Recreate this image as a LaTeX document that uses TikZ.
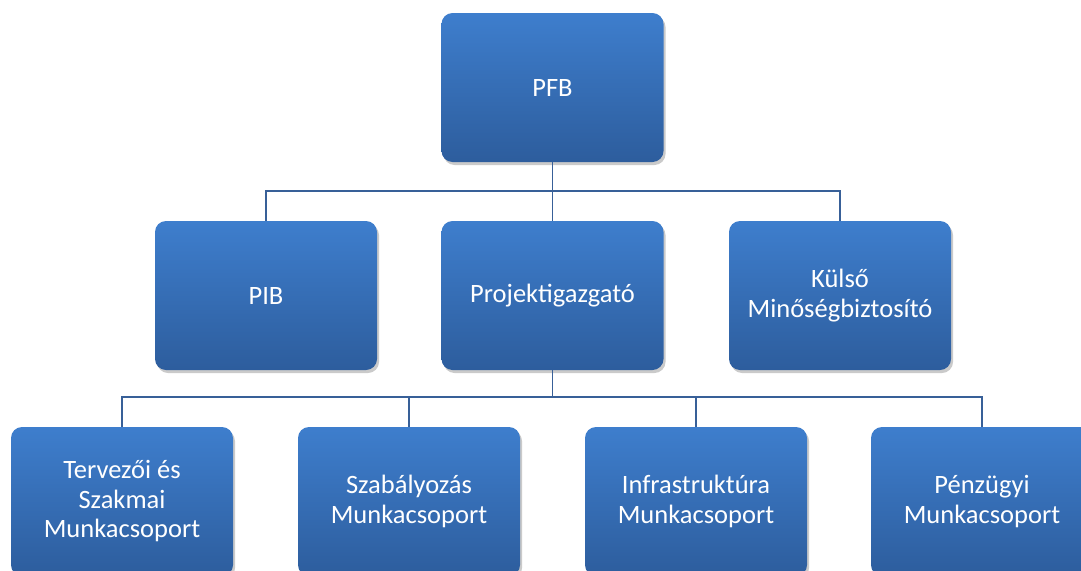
\documentclass[tikz,border=0pt]{standalone}
\usepackage{fontspec}
\setmainfont{Carlito}
\usetikzlibrary{shadows}
\definecolor{boxtop}{RGB}{62,126,205}
\definecolor{boxbot}{RGB}{45,93,157}
\definecolor{linec}{RGB}{56,96,152}
\tikzset{
  orgbox/.style={rectangle, rounded corners=11pt, minimum width=222pt, minimum height=149pt,
    top color=boxtop, bottom color=boxbot, draw=none, text=white, align=center,
    font=\fontsize{26.5}{29.5}\selectfont,
    drop shadow={shadow xshift=2pt, shadow yshift=-3pt, opacity=0.35, fill=black!60}},
  conn/.style={draw=linec, line width=1.8pt}
}
\begin{document}
\begin{tikzpicture}[x=1pt,y=-1pt]
\useasboundingbox (0,0) rectangle (1081,570);
\clip (0,0) rectangle (1081,570);
\node[orgbox] (pfb) at (552.5,87.5) {PFB};
\node[orgbox] (pib) at (266,295.5) {PIB};
\node[orgbox] (proj) at (552.5,295.5) {Projektigazgató};
\node[orgbox] (kul) at (840,295.5) {Külső\\Minőségbiztosító};
\node[orgbox] (t1) at (122,501.5) {Tervezői és\\Szakmai\\Munkacsoport};
\node[orgbox] (t2) at (409,501.5) {Szabályozás\\Munkacsoport};
\node[orgbox] (t3) at (696,501.5) {Infrastruktúra\\Munkacsoport};
\node[orgbox] (t4) at (982,501.5) {Pénzügyi\\Munkacsoport};
\coordinate (b1) at (552.5,191);
\coordinate (b2) at (552.5,397);
\draw[conn] (pfb.south) -- (b1);
\draw[conn] (b1) -- (proj.north);
\draw[conn] (pib.north) |- (b1) -| (kul.north);
\draw[conn] (proj.south) -- (b2);
\draw[conn] (t1.north) |- (b2) -| (t4.north);
\draw[conn] (t2.north) -- (t2.north |- b2);
\draw[conn] (t3.north) -- (t3.north |- b2);
\end{tikzpicture}
\end{document}
